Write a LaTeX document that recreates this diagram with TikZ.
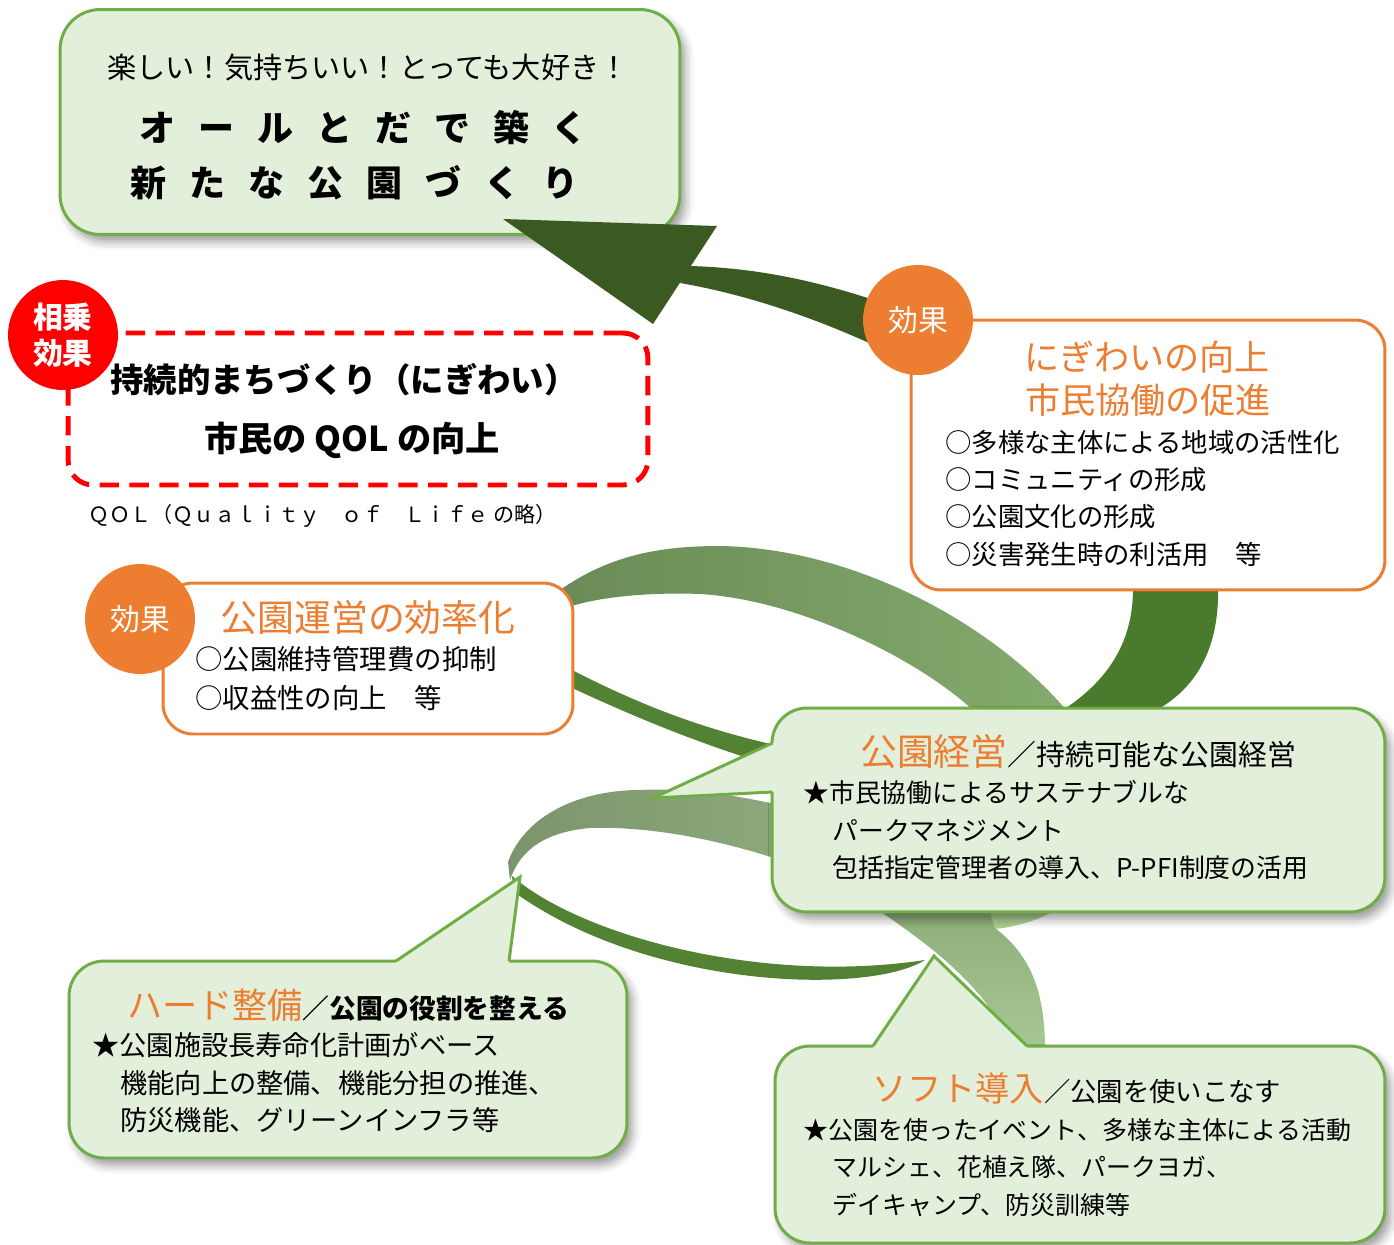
\documentclass[tikz,border=0pt]{standalone}
\usepackage{fontspec}
\setmainfont{Noto Sans CJK JP}
\usetikzlibrary{positioning,shadows.blur}
\definecolor{parkfill}{HTML}{E2EFDA}
\definecolor{parkline}{HTML}{70AD47}
\definecolor{effect}{HTML}{ED7D31}
\definecolor{arrowgreen}{HTML}{3A5A22}
\definecolor{ribbondark}{HTML}{4A7A2C}
\definecolor{ribbonmid}{HTML}{548235}
\definecolor{ribbonAa}{HTML}{6A8B56}
\definecolor{ribbonAb}{HTML}{84AB6E}
\definecolor{ribbonDa}{HTML}{7C946D}
\definecolor{ribbonDb}{HTML}{8DA87C}
\definecolor{ribbonEa}{HTML}{8DAE7A}
\definecolor{ribbonEb}{HTML}{A8C893}
\definecolor{ribbonlight}{HTML}{AACF90}
\newcommand{\kgap}{\hspace{13pt}}

\begin{document}
\begin{tikzpicture}[
		x=0.02cm,
		y=-0.02cm,
		parkbox/.style={
			draw=parkline,
			line width=1.7pt,
			fill=parkfill,
			rounded corners=0.7cm,
			blur shadow={shadow xshift=3pt,shadow yshift=-4pt,shadow blur radius=5pt}
		},
		effectbox/.style={
			draw=effect,
			line width=1.7pt,
			fill=white,
			rounded corners=0.6cm
		},
		pointerline/.style={
			draw=parkline,
			line width=1.7pt,
			line join=miter
		},
		badge/.style={
			circle,
			fill=#1,
			text=white,
			inner sep=0pt,
			minimum size=2.2cm,
			align=center,
			font=\fontsize{17}{20.5}\selectfont
		},
		item/.style={
			anchor=west,
			inner sep=0pt,
			font=\fontsize{#1}{#1}\selectfont
		},
		item/.default=15,
		heading/.style={
			inner sep=0pt,
			text=effect,
			font=\fontsize{#1}{#1}\selectfont
		},
		heading/.default=20
		]
		\useasboundingbox (0,0) rectangle (1394,1245);
		% ribbon behind the boxes
		\fill[ribbondark] (1133,585) .. controls (1134,640) and (1110,680) .. (1060,712) -- (1153,712) .. controls (1195,690) and (1220,650) .. (1218,585) -- cycle;
		\shade[left color=ribbonAa,right color=ribbonAb] (560,590) .. controls (610,555) and (660,546) .. (720,546) .. controls (850,548) and (990,620) .. (1068,712) -- (975,712) .. controls (920,660) and (800,600) .. (700,594) .. controls (650,592) and (600,597) .. (572,606) -- cycle;
		\fill[ribbonmid] (568,668) .. controls (640,705) and (700,728) .. (775,745) -- (760,762) .. controls (690,740) and (630,715) .. (568,686) -- cycle;
		\shade[left color=ribbonDa,right color=ribbonDb] (780,805) .. controls (720,792) and (680,788) .. (640,790) .. controls (580,790) and (525,815) .. (508,862) -- (510,880) .. controls (520,850) and (545,832) .. (590,828) .. controls (650,826) and (720,840) .. (780,860) -- cycle;
		\fill[ribbonmid] (512,876) .. controls (580,935) and (760,985) .. (925,960) .. controls (870,995) and (650,990) .. (514,892) -- cycle;
		\shade[top color=ribbonEa,bottom color=ribbonEb] (878,910) .. controls (930,945) and (990,990) .. (1013,1050) -- (1045,1050) .. controls (1045,990) and (1030,955) .. (995,928) -- (990,910) -- cycle;
		\fill[ribbonlight] (990,910) -- (1055,910) .. controls (1040,920) and (1015,927) .. (995,929) -- cycle;
		% boxes
		\node[parkbox,rounded corners=0.8cm,minimum width=12.4cm,minimum height=4.5cm] (goal) at (370,122) {};
		\node[draw=red,line width=2.8pt,dash pattern=on 11pt off 6pt,rounded corners=0.5cm,minimum width=11.6cm,minimum height=3.04cm] (synergy) at (358,409) {};
		\node[effectbox,minimum width=9.48cm,minimum height=5.4cm] (nigiwai) at (1148,455) {};
		\node[effectbox,minimum width=8.2cm,minimum height=3.02cm] (unei) at (368,658.5) {};
		\node[parkbox,minimum width=12.26cm,minimum height=4.08cm] (keiei) at (1078.5,810) {};
		\coordinate (keieitip) at (653,798);
		\fill[parkfill] (771,743) -- (keieitip) -- (771,792) -- (778,792) -- (778,743) -- cycle;
		\draw[pointerline] (772.5,743) -- (keieitip) -- (772.5,792);
		\node[parkbox,minimum width=11.16cm,minimum height=3.94cm] (hard) at (348,1059.5) {};
		\coordinate (hardtip) at (520,877);
		\fill[parkfill] (396,960) -- (hardtip) -- (509,960) -- (509,966) -- (396,966) -- cycle;
		\draw[pointerline] (396,961) -- (hardtip) -- (509,961);
		\node[parkbox,minimum width=12.2cm,minimum height=3.94cm] (soft) at (1080,1144.5) {};
		\coordinate (softtip) at (934,956);
		\fill[parkfill] (873,1045) -- (softtip) -- (1027,1045) -- (1027,1051) -- (873,1051) -- cycle;
		\draw[pointerline] (873,1046) -- (softtip) -- (1027,1046);
		% arrow up to the goal
		\coordinate (goaltip) at (503,219);
		\fill[arrowgreen] (690,266) .. controls (760,268) and (820,282) .. (880,302) -- (880,348) .. controls (820,320) and (750,295) .. (680,283) -- cycle;
		\fill[arrowgreen] (goaltip) -- (717,226) -- (653,324) -- cycle;
		% badges
		\node[badge=red,font=\bfseries\fontsize{17}{20.5}\selectfont] (synergybadge) at (63,335) {相乗\\効果};
		\node[badge=effect] (effectnigiwai) at (918,320) {効果};
		\node[badge=effect] (effectunei) at (140,619) {効果};
		% texts
		\node[inner sep=0pt,font=\fontsize{16.6}{20}\selectfont] (goalline1) at (368,67) {楽しい！気持ちいい！とっても大好き！};
		\node[inner sep=0pt,font=\bfseries\fontsize{20.5}{24}\selectfont] (goalline2) at (364,128) {オ\kgap ー\kgap ル\kgap と\kgap だ\kgap で\kgap 築\kgap く};
		\node[inner sep=0pt,font=\bfseries\fontsize{20.5}{24}\selectfont] (goalline3) at (355,183) {新\kgap た\kgap な\kgap 公\kgap 園\kgap づ\kgap く\kgap り};
		\node[inner sep=0pt,font=\bfseries\fontsize{19}{22}\selectfont] (mainline1) at (344,380) {持続的まちづくり（にぎわい）};
		\node[inner sep=0pt,font=\bfseries\fontsize{19.5}{22}\selectfont] (mainline2) at (352,440) {市民の QOL の向上};
		\node[item=12] (qolnote) at (88,516) {ＱＯＬ（Ｑｕａｌｉｔｙ　ｏｆ　Ｌｉｆｅ\ の略）};
		\node[heading] (nigiwaititle1) at (1147,357) {にぎわいの向上};
		\node[heading] (nigiwaititle2) at (1148,400) {市民協働の促進};
		\node[item] (nigiwaiitem1) at (945,442) {○多様な主体による地域の活性化};
		\node[item] (nigiwaiitem2) at (945,480) {○コミュニティの形成};
		\node[item] (nigiwaiitem3) at (945,517) {○公園文化の形成};
		\node[item] (nigiwaiitem4) at (945,554) {○災害発生時の利活用　等};
		\node[heading=21] (ueititle) at (368,618) {公園運営の効率化};
		\node[item=15.6] (ueiitem1) at (195,659) {○公園維持管理費の抑制};
		\node[item=15.6] (ueiitem2) at (195,698) {○収益性の向上　等};
		\node[inner sep=0pt,font=\fontsize{16.4}{20}\selectfont] (keiititle) at (1078,752) {{\color{effect}\fontsize{21}{24}\selectfont 公園経営}／持続可能な公園経営};
		\node[item=14.7] (keiiitem1) at (803,793) {★市民協働によるサステナブルな};
		\node[item=14.7] (keiiitem2) at (832,831) {パークマネジメント};
		\node[item=14.7] (keiiitem3) at (832,868) {包括指定管理者の導入、P-PFI制度の活用};
		\node[inner sep=0pt,font=\bfseries\fontsize{15.2}{18}\selectfont] (hardtitle) at (348,1005) {{\mdseries\color{effect}\fontsize{20}{24}\selectfont ハード整備}／公園の役割を整える};
		\node[item=15.5] (harditem1) at (92,1045) {★公園施設長寿命化計画がベース};
		\node[item=15.5] (harditem2) at (120,1083) {機能向上の整備、機能分担の推進、};
		\node[item=15.5] (harditem3) at (120,1120) {防災機能、グリーンインフラ等};
		\node[inner sep=0pt,font=\fontsize{15}{18}\selectfont] (softtitle) at (1077,1088) {{\color{effect}\fontsize{19.5}{24}\selectfont ソフト導入}／公園を使いこなす};
		\node[item=14.2] (softitem1) at (803,1130) {★公園を使ったイベント、多様な主体による活動};
		\node[item=14.2] (softitem2) at (832,1167) {マルシェ、花植え隊、パークヨガ、};
		\node[item=14.2] (softitem3) at (832,1205) {デイキャンプ、防災訓練等};
		\end{tikzpicture}
\end{document}
